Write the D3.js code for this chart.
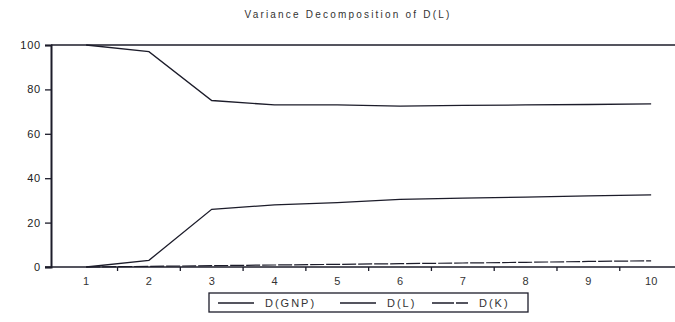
<!DOCTYPE html>
<html>
<head>
<meta charset="utf-8">
<script src="https://cdn.jsdelivr.net/npm/d3@7"></script>
<style>
  body { margin: 0; background: #fff; }
  text { font-family: "Liberation Sans", Arial, sans-serif; }
</style>
</head>
<body>
<svg id="chart" width="675" height="322"></svg>
<script>
// periods and shares (%)
const periods = [1, 2, 3, 4, 5, 6, 7, 8, 9, 10]
const gnpShare = [0, 3, 26, 28, 29, 30.5, 31, 31.5, 32, 32.5]
const lShare = [100, 97, 75, 73, 73, 72.5, 72.8, 73, 73.2, 73.5]
const kShare = [0, 0.3, 0.6, 0.9, 1.2, 1.5, 1.8, 2.1, 2.5, 2.8]
const yTicks = [0, 20, 40, 60, 80, 100]
const seriesNames = ["D(GNP)", "D(L)", "D(K)"]

const svg = d3.select("#chart")
const ink = "#1c1c2a"

let x = d3.scaleLinear().domain([0.44, 10.38]).range([51, 675])
let y = d3.scaleLinear().domain([0, 100]).range([267, 45])

// title
svg.append("text")
    .attr("x", 348).attr("y", 18)
    .attr("text-anchor", "middle")
    .attr("font-size", 10)
    .attr("letter-spacing", 2.2)
    .attr("fill", "#333")
    .text("Variance Decomposition of D(L)")

// frame top
svg.append("line")
    .attr("x1", 51).attr("x2", 675)
    .attr("y1", y(100)).attr("y2", y(100))
    .attr("stroke", ink).attr("stroke-width", 1.4)

// y axis
const yAxis = d3.axisLeft(y).tickValues(yTicks).tickSize(6).tickPadding(4)
let gy = svg.append("g").attr("transform", "translate(51,0)").call(yAxis)
gy.select(".domain").attr("stroke", ink).attr("stroke-width", 2)
gy.selectAll(".tick line").attr("stroke", ink).attr("stroke-width", 1.3)
gy.selectAll(".tick text").attr("font-size", 11).attr("fill", "#222")
    .attr("letter-spacing", 0.8)
    .attr("font-family", "Liberation Sans, Arial, sans-serif")

// x axis: labels at periods, ticks between them
svg.append("line")
    .attr("x1", 45).attr("x2", 675)
    .attr("y1", y(0)).attr("y2", y(0))
    .attr("stroke", ink).attr("stroke-width", 1.6)
const halfTicks = periods.map(p => p + 0.5)
svg.selectAll(".xtick").data(halfTicks).enter().append("line")
    .attr("x1", d => x(d)).attr("x2", d => x(d))
    .attr("y1", y(0)).attr("y2", y(0) + 4)
    .attr("stroke", ink).attr("stroke-width", 1.3)
svg.selectAll(".xlab").data(periods).enter().append("text")
    .attr("x", d => x(d)).attr("y", 285)
    .attr("text-anchor", "middle")
    .attr("font-size", 11)
    .attr("fill", "#333")
    .text(d => d)

// lines
const line = d3.line().x((d, i) => x(periods[i])).y(d => y(d))
svg.append("path").datum(lShare).attr("d", line)
    .attr("fill", "none").attr("stroke", ink).attr("stroke-width", 1.3)
svg.append("path").datum(gnpShare).attr("d", line)
    .attr("fill", "none").attr("stroke", ink).attr("stroke-width", 1.3)
svg.append("path").datum(kShare).attr("d", line)
    .attr("fill", "none").attr("stroke", ink).attr("stroke-width", 1.2)
    .attr("stroke-dasharray", "14,2")

// legend
let lg = svg.append("g")
lg.append("rect")
    .attr("x", 209).attr("y", 293).attr("width", 319).attr("height", 19)
    .attr("fill", "none").attr("stroke", ink).attr("stroke-width", 1.3)
const legX = [218, 340, 432]
seriesNames.forEach((name, i) => {
    lg.append("line")
        .attr("x1", legX[i]).attr("x2", legX[i] + 36)
        .attr("y1", 303).attr("y2", 303)
        .attr("stroke", ink).attr("stroke-width", 1.3)
        .attr("stroke-dasharray", i === 2 ? "22,2,12" : null)
    lg.append("text")
        .attr("x", legX[i] + 47).attr("y", 307)
        .attr("font-size", 11)
        .attr("letter-spacing", 2)
        .attr("fill", "#333")
        .text(name)
})
</script>
</body>
</html>
